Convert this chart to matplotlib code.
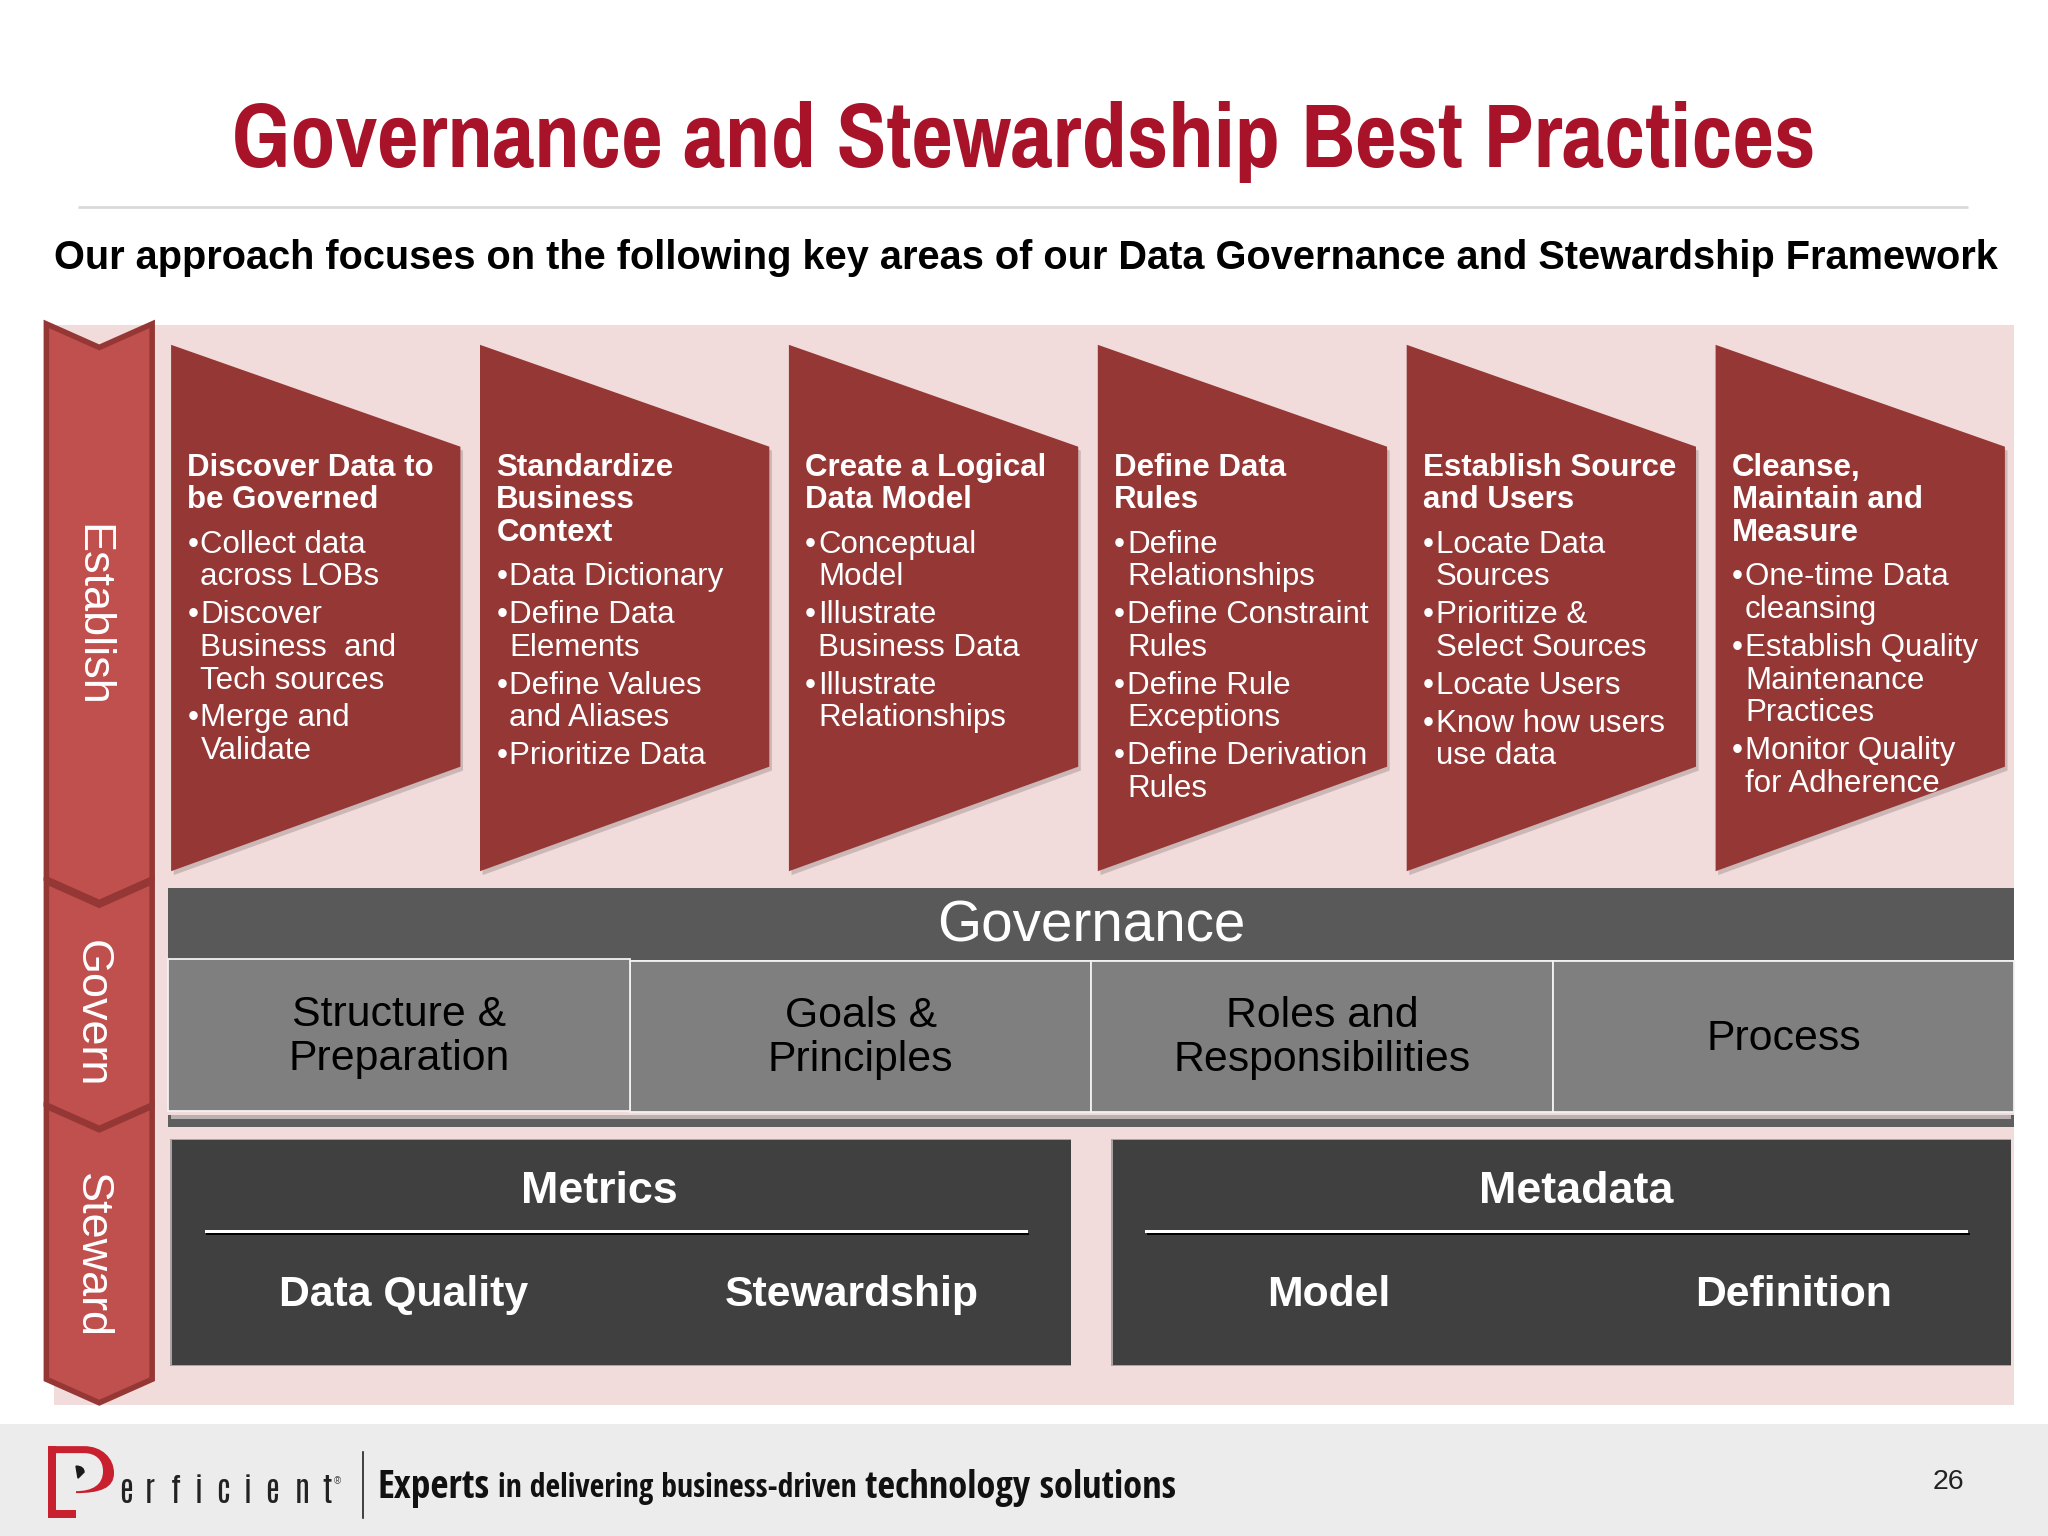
import matplotlib
matplotlib.use("Agg")
import matplotlib.pyplot as plt
from matplotlib import font_manager as fm
from matplotlib.patches import Polygon, Rectangle, PathPatch
from matplotlib.path import Path

TITLE = "Governance and Stewardship Best Practices"
SUBTITLE = "Our approach focuses on the following key areas of our Data Governance and Stewardship Framework"
PHASES = ["Establish", "Govern", "Steward"]
CARD_TITLES = [
    ["Discover Data to", "be Governed"],
    ["Standardize", "Business", "Context"],
    ["Create a Logical", "Data Model"],
    ["Define Data", "Rules"],
    ["Establish Source", "and Users"],
    ["Cleanse,", "Maintain and", "Measure"],
]
CARD_BULLETS = [
    [["Collect data", "across LOBs"], ["Discover", "Business  and", "Tech sources"], ["Merge and", "Validate"]],
    [["Data Dictionary"], ["Define Data", "Elements"], ["Define Values", "and Aliases"], ["Prioritize Data"]],
    [["Conceptual", "Model"], ["Illustrate", "Business Data"], ["Illustrate", "Relationships"]],
    [["Define", "Relationships"], ["Define Constraint", "Rules"], ["Define Rule", "Exceptions"], ["Define Derivation", "Rules"]],
    [["Locate Data", "Sources"], ["Prioritize &", "Select Sources"], ["Locate Users"], ["Know how users", "use data"]],
    [["One-time Data", "cleansing"], ["Establish Quality", "Maintenance", "Practices"], ["Monitor Quality", "for Adherence"]],
]
GOV_HEADER = "Governance"
GOV_BOXES = [["Structure &", "Preparation"], ["Goals &", "Principles"], ["Roles and", "Responsibilities"], ["Process"]]
PANELS = ["Metrics", "Metadata"]
PANEL_ITEMS = [["Data Quality", "Stewardship"], ["Model", "Definition"]]
LOGO_LETTERS = list("erficient")
TAGLINE = ["Experts", "in delivering business-driven", "technology solutions"]
PAGE = "26"

installed = set(fm.fontManager.get_font_names())


def pick(*names):
    for n in names:
        if n in installed:
            return [n, "DejaVu Sans"]
    return ["Liberation Sans", "DejaVu Sans"]


SANS = ["Liberation Sans", "DejaVu Sans"]
NARROW = pick("Liberation Sans Narrow", "Arimo Narrow", "Pragati Narrow", "PT Sans Narrow", "Archivo Narrow")
TAG = pick("Open Sans Condensed", "PT Sans Narrow", "Pragati Narrow")
LOGO = pick("Antonio", "Pragati Narrow", "PT Sans Narrow")
plt.rcParams["font.family"] = SANS

fig = plt.figure(figsize=(20.48, 15.36), dpi=100, facecolor="white")
ax = fig.add_axes([0, 0, 1, 1])
ax.set_xlim(0, 1568)
ax.set_ylim(1176, 0)
ax.axis("off")
rend = fig.canvas.get_renderer()
D = 1 / 1.306


def txt(x, y, s, size, color="white", weight="normal", ha="left", fit=None, z=10, va="center", **kw):
    dy = 0 if ("rotation" in kw or va != "center") else 0.09 * size
    t = ax.text(x, y + dy, s, fontsize=size, color=color, fontweight=weight, ha=ha, va=va, zorder=z, **kw)
    if fit:
        w = t.get_window_extent(rend).width * D
        t.set_fontsize(size * fit / w)
    return t


def shadow_poly(pts, dx=2, dy=3, z=3):
    ax.add_patch(Polygon([(a + dx, b + dy) for a, b in pts], closed=True, fc="#6b5a5a", ec="none", alpha=0.28, zorder=z))


# backgrounds
ax.add_patch(Rectangle((41, 249), 1501, 827, fc="#f2dcdb", ec="none", zorder=1))
ax.add_patch(Rectangle((0, 1090), 1568, 86, fc="#ececec", ec="none", zorder=1))

# title
txt(783.5, 103, TITLE, 60, color="#a8132a", weight="bold", ha="center", fit=1213, family=NARROW)
ax.plot([60, 1507], [158.5, 158.5], color="#d9d9d9", lw=2, zorder=2, solid_capstyle="butt")
txt(785.5, 195, SUBTITLE, 29, color="black", weight="bold", ha="center", fit=1485)

# left chevrons
CHEV = [(248, 673), (675, 846), (847, 1056)]
LABEL_Y = [471, 776, 961]
for i, ((top, bot), lab, ly) in enumerate(zip(CHEV, PHASES, LABEL_Y)):
    xl, xr, xm = 35.5, 116.5, 76
    pts = [(xl, top), (xm, top + 18), (xr, top), (xr, bot), (xm, bot + 18), (xl, bot)]
    ax.add_patch(Polygon(pts, closed=True, fc="#c0504d", ec="#953735", lw=4, joinstyle="miter", zorder=5 + i * 0.1))
    txt(70, ly, lab, 32.4, color="white", ha="center", rotation=-90)

# cards
CARD_X0, CARD_STEP = 131, 236.5
for i, (tlines, bullets) in enumerate(zip(CARD_TITLES, CARD_BULLETS)):
    x = CARD_X0 + i * CARD_STEP
    pts = [(x, 264), (x + 221.5, 342), (x + 221.5, 587), (x, 667)]
    shadow_poly(pts)
    ax.add_patch(Polygon(pts, closed=True, fc="#953735", ec="none", zorder=4))
    y = 356
    for line in tlines:
        txt(x + 12.5, y, line, 22.5, weight="bold")
        y += 25
    y += 9
    for bullet in bullets:
        txt(x + 12.5, y, "•", 22.5)
        for line in bullet:
            txt(x + 22.5, y, line, 22.5)
            y += 25
        y += 4

# governance
ax.add_patch(Rectangle((129, 680), 1413, 55, fc="#595959", ec="none", zorder=3))
txt(835.5, 706, GOV_HEADER, 40.8, ha="center")
BOX_W = 353.25
for i, lines in enumerate(GOV_BOXES):
    x = 129 + i * BOX_W
    off = 0 if i == 0 else 1
    ax.add_patch(Rectangle((x, 734.5 + off), BOX_W, 116, fc="#7f7f7f", ec="#f2f2f2", lw=1.3, zorder=4 + (0.1 if i == 0 else 0)))
    if len(lines) == 2:
        txt(x + BOX_W / 2, 774 + off, lines[0], 30.8, color="black", ha="center")
        txt(x + BOX_W / 2, 808 + off, lines[1], 30.8, color="black", ha="center")
    else:
        txt(x + BOX_W / 2, 792 + off, lines[0], 30.8, color="black", ha="center")
ax.add_patch(Rectangle((129, 854), 1413, 9, fc="#5f5f5f", ec="none", zorder=3))
ax.add_patch(Rectangle((131, 854), 1409, 2.5, fc="#b9b0b0", ec="none", zorder=3.1))

# panels
PANEL_X = [132, 852]
PANEL_W = 688
ITEM_X = [[309, 652], [1017, 1373]]
HEAD_X = [459, 1206.5]
for px, head, items, ix, hx in zip(PANEL_X, PANELS, PANEL_ITEMS, ITEM_X, HEAD_X):
    ax.add_patch(Rectangle((px - 1.5, 872), PANEL_W + 1.5, 174, fc="#a9a3a3", ec="none", zorder=3))
    ax.add_patch(Rectangle((px, 873), PANEL_W, 172, fc="#404040", ec="none", zorder=4))
    txt(hx, 909, head, 32.3, weight="bold", ha="center")
    ax.add_patch(Rectangle((px + 25, 941.5), 630, 2.6, fc="white", ec="none", zorder=5))
    ax.add_patch(Rectangle((px + 26, 944.1), 630, 1.6, fc="black", ec="none", zorder=5))
    for x, s in zip(ix, items):
        txt(x, 989, s, 30.8, weight="bold", ha="center")

# footer logo (outline read in device pixels)
RED = "#c8202f"


def dv(pts):
    return [(a * D, b * D) for a, b in pts]


ax.add_patch(Rectangle((48.3 * D, 1446 * D), 8 * D, 72 * D, fc=RED, ec="none", zorder=5))
ax.add_patch(Rectangle((48.3 * D, 1510 * D), 27.7 * D, 8 * D, fc=RED, ec="none", zorder=5))
codes = [Path.MOVETO, Path.LINETO, Path.CURVE4, Path.CURVE4, Path.CURVE4,
         Path.CURVE4, Path.CURVE4, Path.CURVE4, Path.LINETO,
         Path.CURVE4, Path.CURVE4, Path.CURVE4,
         Path.CURVE4, Path.CURVE4, Path.CURVE4, Path.LINETO, Path.CLOSEPOLY]
verts = dv([(48.3, 1446), (84, 1446), (102, 1446), (114, 1458), (114, 1473),
            (114, 1488), (100, 1493), (76, 1493), (76, 1491),
            (92, 1491), (103, 1485), (103, 1471),
            (103, 1460), (96, 1453), (84, 1453), (48.3, 1453), (48.3, 1446)])
ax.add_patch(PathPatch(Path(verts, codes), fc=RED, ec="none", zorder=5))
dot_codes = [Path.MOVETO, Path.CURVE4, Path.CURVE4, Path.CURVE4, Path.LINETO, Path.CLOSEPOLY]
dot_verts = dv([(76, 1466), (82, 1466), (84, 1469), (84, 1472), (78, 1478), (76, 1466)])
ax.add_patch(PathPatch(Path(dot_verts, dot_codes), fc="#1a1a1a", ec="#1a1a1a", lw=1, zorder=6))
LETTER_X = [96.5, 114.9, 134.8, 152.4, 170.8, 189.9, 208.3, 231.2, 250.4]
for x, ch in zip(LETTER_X, LOGO_LETTERS):
    txt(x, 1150.8, ch, 23, color="#222222", ha="center", family=LOGO, va="baseline")
txt(258, 1133, "®", 7, color="#444444", ha="center")
ax.plot([278.3, 278.3], [1112, 1162], color="#222222", lw=1.2, zorder=5)
txt(289, 1137, TAGLINE[0], 26, color="#111111", weight="bold", fit=86, family=TAG)
txt(381, 1137, TAGLINE[1], 26, color="#111111", weight="light", fit=275, family=TAG)
txt(662, 1137, TAGLINE[2], 26, color="#111111", weight="bold", fit=239, family=TAG)
txt(1492, 1133, PAGE, 20.5, color="#222222", ha="center")

fig.savefig("out.png", dpi=100, facecolor="white")
